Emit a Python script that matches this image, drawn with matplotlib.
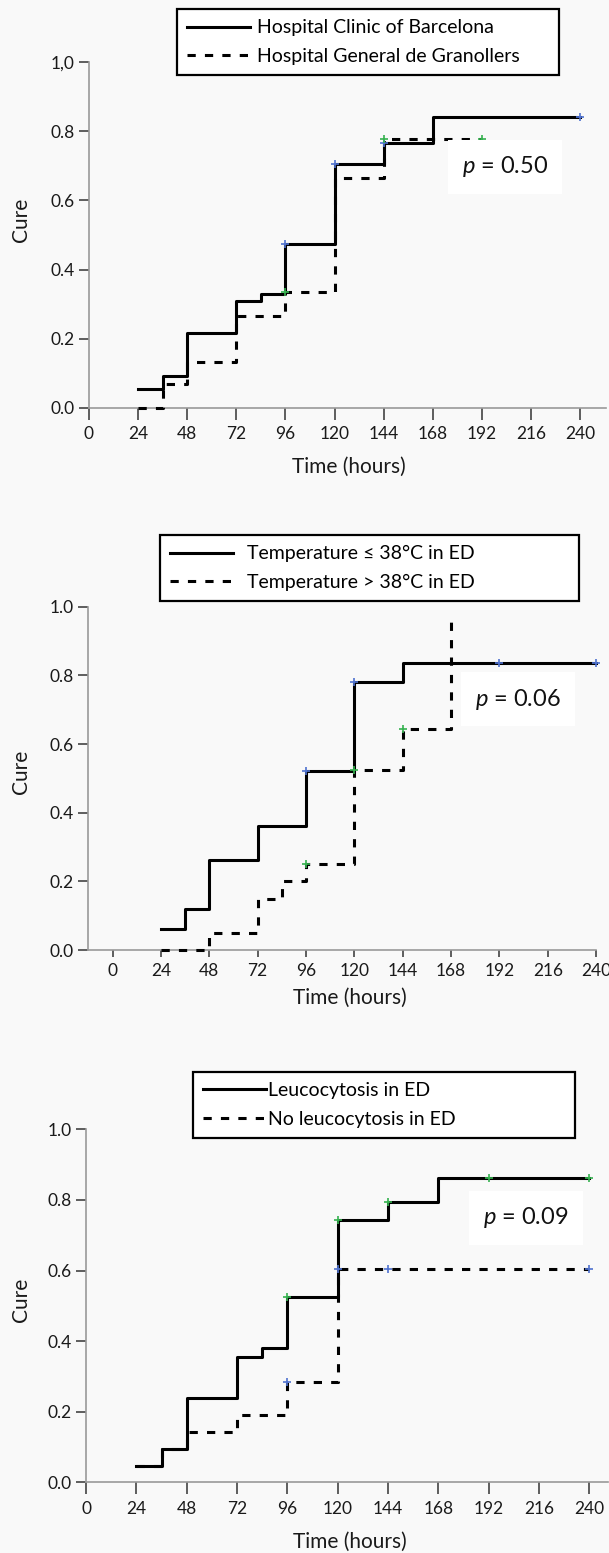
import numpy as np
import matplotlib
matplotlib.use("Agg")
import matplotlib.pyplot as plt

plt.rcParams['font.family'] = ['Lato', 'DejaVu Sans']
plt.rcParams['mathtext.fontset'] = 'custom'
plt.rcParams['mathtext.it'] = 'Lato:italic'
plt.rcParams['mathtext.rm'] = 'Lato'

# ---------------- data ----------------
hour_ticks = [0, 24, 48, 72, 96, 120, 144, 168, 192, 216, 240]
cure_ticks = [0.0, 0.2, 0.4, 0.6, 0.8, 1.0]
cure_ticklabels_1 = ["0.0", "0.2", "0.4", "0.6", "0.8", "1,0"]
cure_ticklabels = ["0.0", "0.2", "0.4", "0.6", "0.8", "1.0"]

# Panel 1: hospitals
p1_labels = ["Hospital Clinic of Barcelona", "Hospital General de Granollers"]
p1_solid_t = [24, 36, 48, 72, 84, 96, 120, 144, 168, 240]
p1_solid_s = [0.054, 0.092, 0.217, 0.309, 0.328, 0.474, 0.705, 0.767, 0.842, 0.842]
p1_solid_cens = [96, 120, 144, 240]
p1_dash_t = [24, 36, 48, 72, 96, 120, 144, 192]
p1_dash_s = [0.0, 0.068, 0.133, 0.266, 0.334, 0.666, 0.778, 0.778]
p1_dash_cens = [96, 144, 192]
p1_p = "0.50"

# Panel 2: temperature
p2_labels = ["Temperature \u2264 38\u00b0C in ED", "Temperature > 38\u00b0C in ED"]
p2_solid_t = [24, 36, 48, 72, 96, 120, 144, 240]
p2_solid_s = [0.060, 0.119, 0.262, 0.362, 0.522, 0.781, 0.837, 0.837]
p2_solid_cens = [96, 120, 192, 240]
p2_dash_t = [24, 48, 72, 84, 96, 120, 144, 168]
p2_dash_s = [0.0, 0.050, 0.149, 0.202, 0.251, 0.524, 0.644, 0.98]
p2_dash_cens = [96, 120, 144]
p2_p = "0.06"

# Panel 3: leucocytosis
p3_labels = ["Leucocytosis in ED", "No leucocytosis in ED"]
p3_solid_t = [24, 36, 48, 72, 84, 96, 120, 144, 168, 240]
p3_solid_s = [0.047, 0.094, 0.238, 0.356, 0.380, 0.524, 0.743, 0.795, 0.861, 0.861]
p3_solid_cens = [96, 120, 144, 192, 240]
p3_dash_t = [24, 36, 48, 72, 96, 120, 240]
p3_dash_s = [0.047, 0.094, 0.142, 0.190, 0.285, 0.603, 0.603]
p3_dash_cens = [96, 120, 144, 240]
p3_p = "0.09"

BLUE = "#4f72cf"
GREEN = "#35b24f"

def step_value(t, s, x):
    idx = np.searchsorted(np.asarray(t), x, side='right') - 1
    return np.asarray(s)[idx]

fig = plt.figure(figsize=(6.09, 15.53), dpi=100, facecolor="#f9f9f9")
W, H = 609.0, 1553.0

panels = [
    dict(px=(88.9, 605.7), py=(407.7, 62.3), xlim=(0, 252.4), tl=12, tpad=4.5,
         yl=cure_ticklabels_1, labels=p1_labels,
         solid=(p1_solid_t, p1_solid_s, p1_solid_cens, BLUE),
         dash=(p1_dash_t, p1_dash_s, p1_dash_cens, GREEN),
         p=p1_p, ppos=(0.805, 0.697),
         leg=(177, 9, 559.3), htp=0.4,
         ylab=(-0.131, 0.543), xlab=(0.5025, -0.171)),
    dict(px=(88.2, 596.2), py=(950.0, 606.7), xlim=(-12.1, 240), tl=7, tpad=4.0,
         yl=cure_ticklabels, labels=p2_labels,
         solid=(p2_solid_t, p2_solid_s, p2_solid_cens, BLUE),
         dash=(p2_dash_t, p2_dash_s, p2_dash_cens, GREEN),
         p=p2_p, ppos=(0.846, 0.731),
         leg=(160, 535, 578.7), htp=0.75,
         ylab=(-0.132, 0.518), xlab=(0.515, -0.14)),
    dict(px=(86.2, 608.0), py=(1482.3, 1129.3), xlim=(0, 249), tl=12, tpad=4.5,
         yl=cure_ticklabels, labels=p3_labels,
         solid=(p3_solid_t, p3_solid_s, p3_solid_cens, GREEN),
         dash=(p3_dash_t, p3_dash_s, p3_dash_cens, BLUE),
         p=p3_p, ppos=(0.843, 0.749),
         leg=(193, 1071.7, 574.8), htp=0.12,
         ylab=(-0.125, 0.516), xlab=(0.5056, -0.168)),
]

for P in panels:
    x0, x1 = P['px']
    yb, yt = P['py']
    ax = fig.add_axes([x0 / W, 1 - yb / H, (x1 - x0) / W, (yb - yt) / H])
    ax.set_facecolor("none")
    ax.set_xlim(*P['xlim'])
    ax.set_ylim(0, 1.0)
    for sp in ['top', 'right']:
        ax.spines[sp].set_visible(False)
    for sp in ['left', 'bottom']:
        ax.spines[sp].set_color('#9a9a9a')
        ax.spines[sp].set_linewidth(1.2)
    ax.set_xticks(hour_ticks)
    ax.set_yticks(cure_ticks)
    ax.set_yticklabels(P['yl'])
    ax.tick_params(axis='x', length=P['tl'] * 0.72, width=1.1, color='#333333',
                   labelsize=12.5, pad=P['tpad'], labelcolor='#1a1a1a')
    ax.tick_params(axis='y', length=7, width=1.1, color='#333333',
                   labelsize=12.5, pad=3.5, labelcolor='#1a1a1a')

    dt, ds, dc, dcol = P['dash']
    st, ss, sc, scol = P['solid']
    ld, = ax.step(dt, ds, where='post', color='black', lw=2.2,
                  linestyle=(0, (2.7, 3.0)), clip_on=False, zorder=3)
    ls, = ax.step(st, ss, where='post', color='black', lw=2.2,
                  clip_on=False, zorder=4)
    ax.plot(sc, step_value(st, ss, sc), linestyle='none', marker='+',
            ms=6, mew=1.2, color=scol, clip_on=False, zorder=5)
    ax.plot(dc, step_value(dt, ds, dc), linestyle='none', marker='+',
            ms=6, mew=1.2, color=dcol, clip_on=False, zorder=5)

    ax.text(P['ppos'][0], P['ppos'][1], "$p$ = " + P['p'], transform=ax.transAxes,
            ha='center', va='center', fontsize=17, color='#111111',
            bbox=dict(boxstyle='square,pad=0.6', fc='white', ec='none'), zorder=6)

    ax.set_ylabel("Cure", fontsize=15, color='#1a1a1a')
    ax.yaxis.set_label_coords(*P['ylab'])
    ax.yaxis.label.set_va('center')
    ax.set_xlabel("Time (hours)", fontsize=15, color='#1a1a1a')
    ax.xaxis.set_label_coords(*P['xlab'])
    ax.xaxis.label.set_va('center')

    lx0, lyt, lx1 = P['leg']
    leg = ax.legend([ls, ld], P['labels'], loc='upper left',
                    bbox_to_anchor=(lx0 / W, 1 - lyt / H, (lx1 - lx0) / W, 0),
                    bbox_transform=fig.transFigure, mode='expand',
                    borderaxespad=0, fontsize=14, frameon=True, fancybox=False,
                    framealpha=1, edgecolor='black', handlelength=3.2,
                    handletextpad=P['htp'], labelspacing=0.6, borderpad=0.53)
    leg.get_frame().set_linewidth(1.6)
    leg.get_frame().set_facecolor('white')

fig.savefig("out.png", dpi=100, facecolor=fig.get_facecolor())
